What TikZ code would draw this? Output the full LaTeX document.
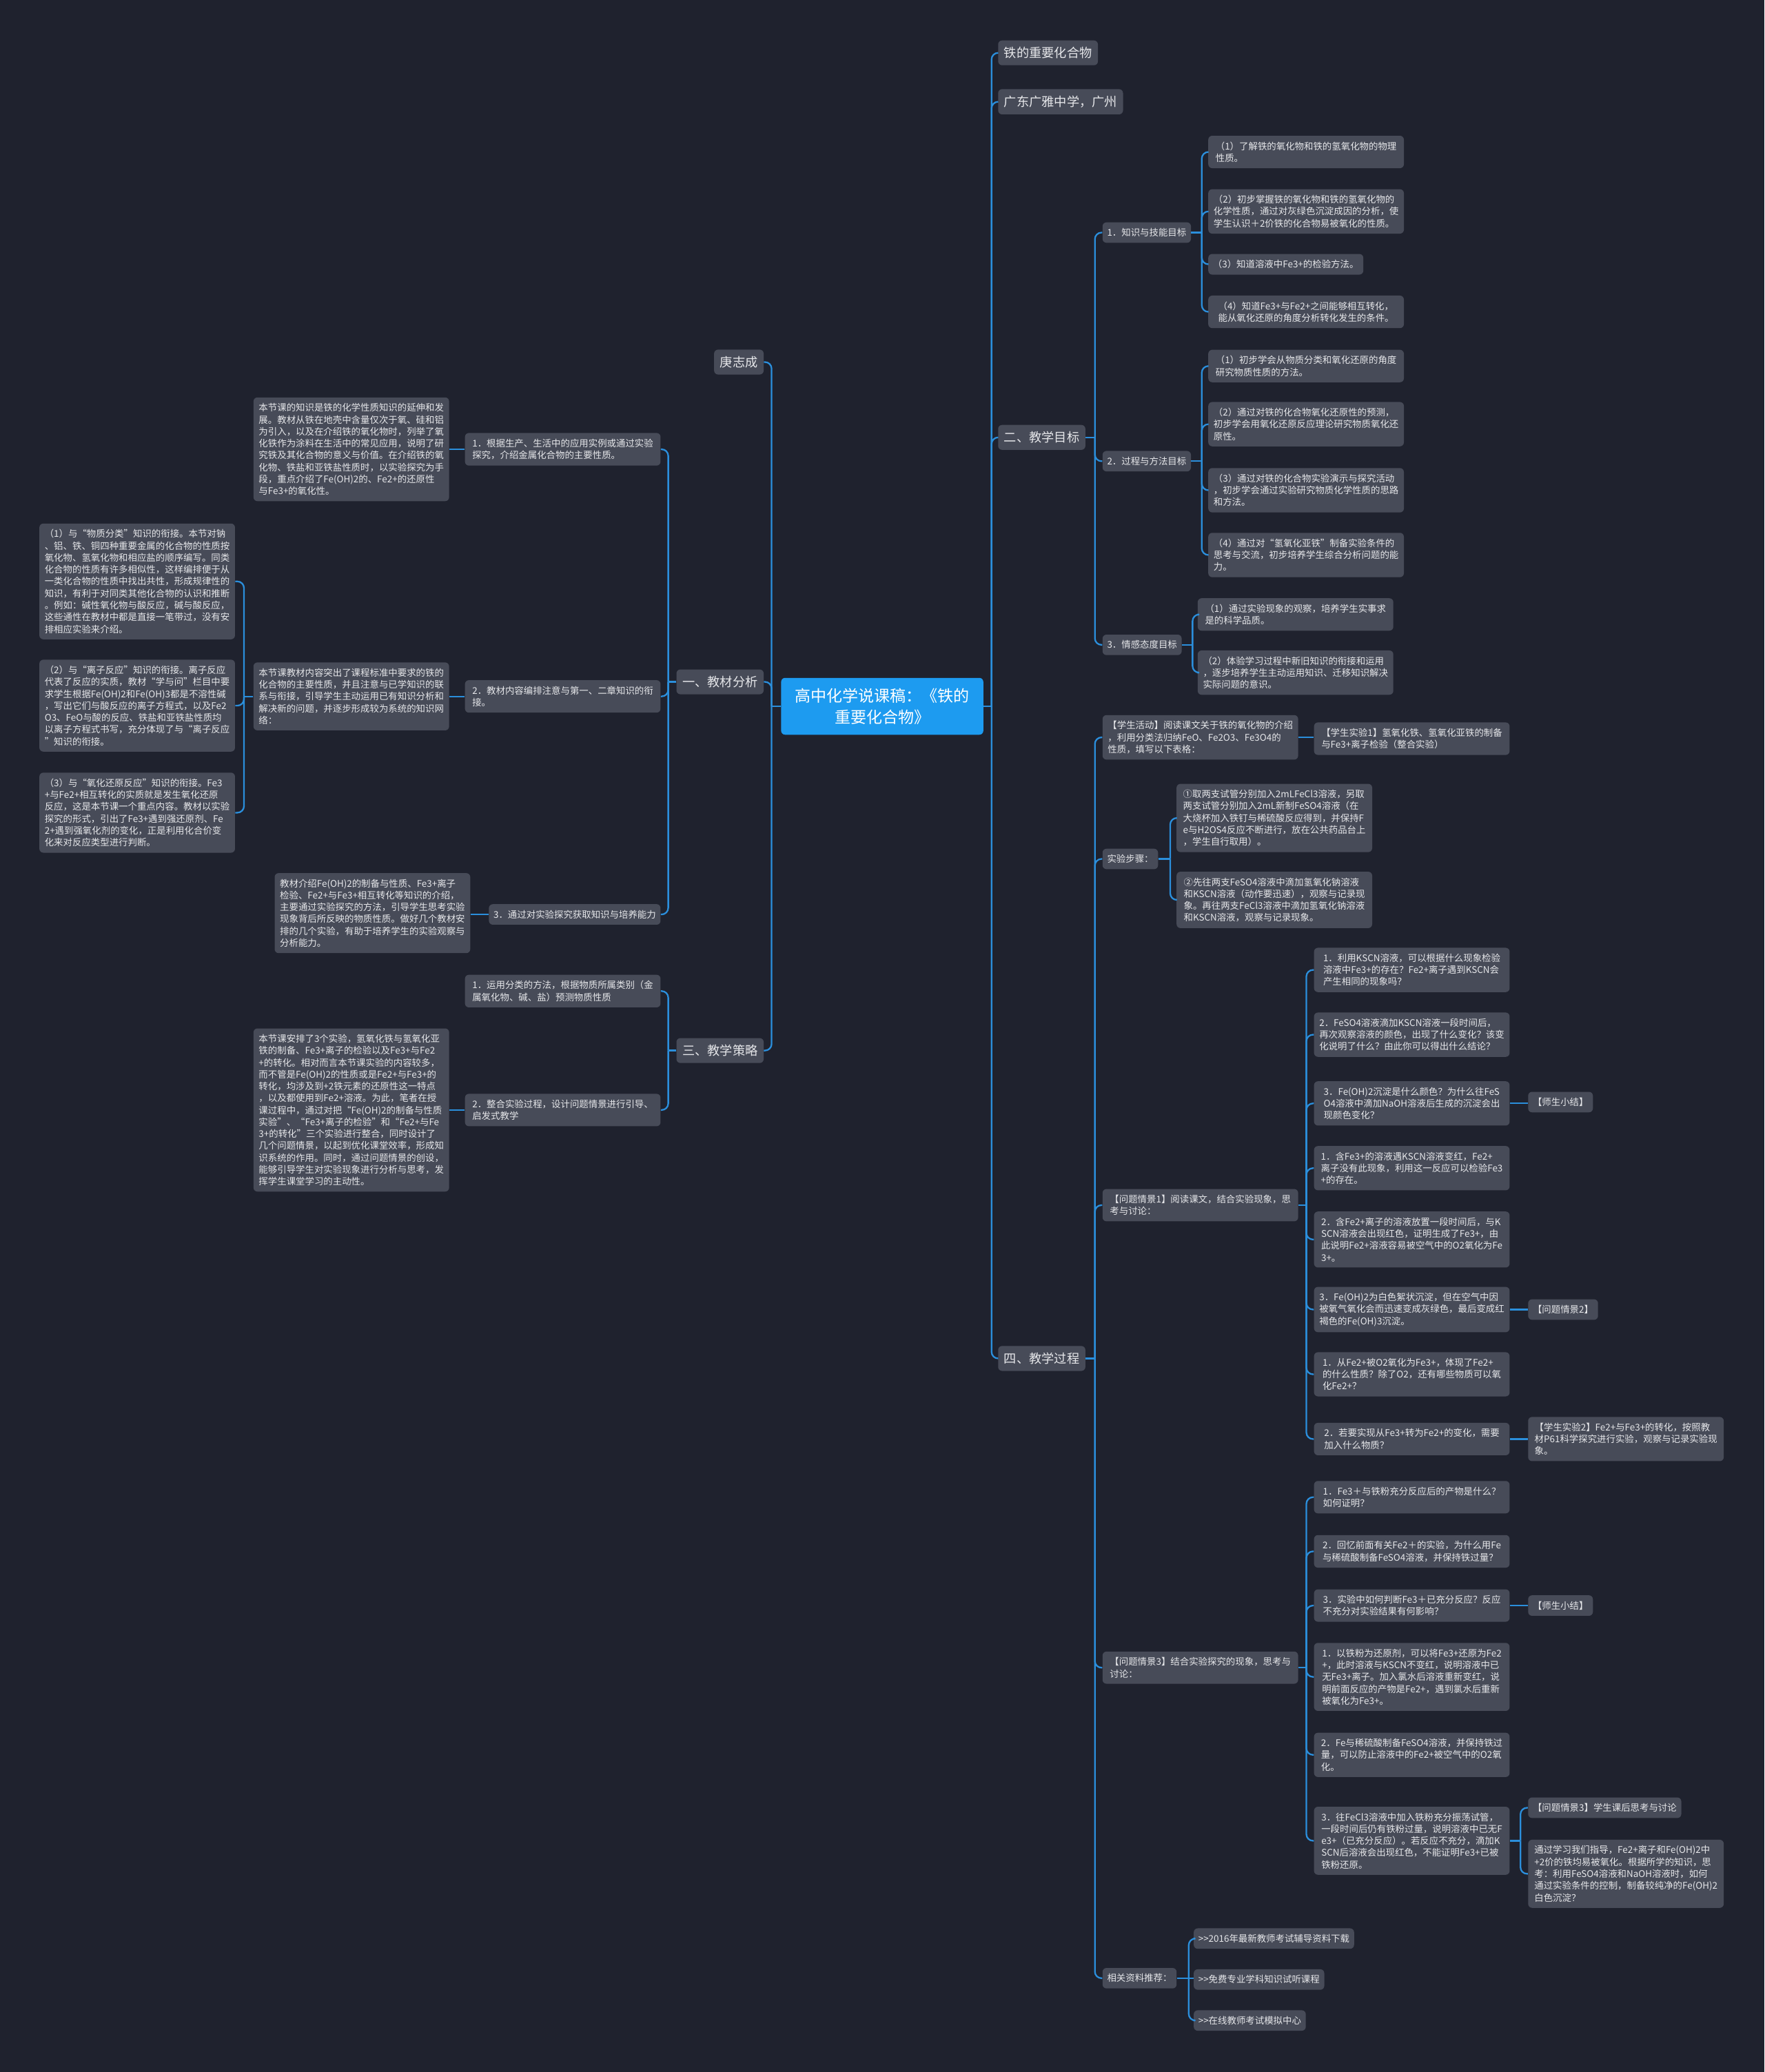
\documentclass[tikz,border=0pt]{standalone}
\usepackage{fontspec}
\setmainfont{Noto Sans CJK SC}
\usepackage{tikz}
\usetikzlibrary{positioning,calc}

\definecolor{bund}{HTML}{1F222E}
\definecolor{boks}{HTML}{474B58}
\definecolor{linje}{HTML}{2B8FDC}
\definecolor{midte}{HTML}{1D9BF0}
\definecolor{tekst}{HTML}{E6E7EA}

\tikzset{
    % Define style for boxes
    box/.style={
           rectangle,
           rounded corners=3pt,
           fill=boks,
           text=tekst,
           align=left,
           inner xsep=3.5pt,
           inner ysep=4.5pt,
           font=\fontsize{7}{9}\selectfont},
    % Wide text boxes
    para/.style={
           box,
           minimum width=148pt},
    % Main branches
    main/.style={
           box,
           inner xsep=4.5pt,
           inner ysep=5pt,
           font=\fontsize{9.5}{11}\selectfont},
    % Center topic
    topic/.style={
           box,
           fill=midte,
           text=white,
           align=center,
           minimum width=153pt,
           minimum height=43pt,
           font=\fontsize{12}{16}\selectfont},
    % Define connector style
    link/.style={
           draw=linje,
           line width=1.2pt,
           rounded corners=5pt}
}

% branch to the right / to the left
\newcommand{\hgren}[3]{%
    \draw[link] (#1.east) -- ++(#3,0) coordinate (knk);
    \draw[link] (knk) |- (#2.west);}
\newcommand{\vgren}[3]{%
    \draw[link] (#1.west) -- ++(-#3,0) coordinate (knk);
    \draw[link] (knk) |- (#2.east);}

\begin{document}
\begin{tikzpicture}[x=1pt, y=-1pt]
	% Background
	\fill[bund] (0,0) rectangle (1335,1568);
	\useasboundingbox (0,0) rectangle (1335,1568);

	% Center topic
	\node[topic] (kegao) at (667.5,534.5) {高中化学说课稿：《铁的\\重要化合物》};

	% Right main branches
	\node[main, anchor=west] (tie) at (755,40) {铁的重要化合物};
	\node[main, anchor=west] (xuexiao) at (755,77) {广东广雅中学，广州};
	\node[main, anchor=west] (mubiao) at (755,331) {二、教学目标};
	\node[main, anchor=west] (guocheng) at (755,1028) {四、教学过程};

	% Left main branches
	\node[main, anchor=east] (zuozhe) at (578,274) {庚志成};
	\node[main, anchor=east] (fenxi) at (578,516) {一、教材分析};
	\node[main, anchor=east] (celue) at (578,795) {三、教学策略};

	% Teaching goals
	\node[box, anchor=west] (zhishi) at (834,176) {1．知识与技能目标};
	\node[box, anchor=west] (fangfa) at (834,349) {2．过程与方法目标};
	\node[box, anchor=west] (qinggan) at (834,488) {3．情感态度目标};

	\node[para, anchor=west] (zs1) at (914,115) {（1）了解铁的氧化物和铁的氢氧化物的物理\\性质。};
	\node[para, anchor=west] (zs2) at (914,160) {（2）初步掌握铁的氧化物和铁的氢氧化物的\\化学性质，通过对灰绿色沉淀成因的分析，使\\学生认识＋2价铁的化合物易被氧化的性质。};
	\node[box, anchor=west] (zs3) at (914,200) {（3）知道溶液中Fe3+的检验方法。};
	\node[para, anchor=west] (zs4) at (914,236) {（4）知道Fe3+与Fe2+之间能够相互转化，\\能从氧化还原的角度分析转化发生的条件。};

	\node[para, anchor=west] (ff1) at (914,277) {（1）初步学会从物质分类和氧化还原的角度\\研究物质性质的方法。};
	\node[para, anchor=west] (ff2) at (914,321) {（2）通过对铁的化合物氧化还原性的预测，\\初步学会用氧化还原反应理论研究物质氧化还\\原性。};
	\node[para, anchor=west] (ff3) at (914,371) {（3）通过对铁的化合物实验演示与探究活动\\，初步学会通过实验研究物质化学性质的思路\\和方法。};
	\node[para, anchor=west] (ff4) at (914,420) {（4）通过对“氢氧化亚铁”制备实验条件的\\思考与交流，初步培养学生综合分析问题的能\\力。};

	\node[para, anchor=west] (qg1) at (906,465) {（1）通过实验现象的观察，培养学生实事求\\是的科学品质。};
	\node[para, anchor=west] (qg2) at (906,509) {（2）体验学习过程中新旧知识的衔接和运用\\，逐步培养学生主动运用知识、迁移知识解决\\实际问题的意识。};

	% Teaching process
	\node[para, anchor=west] (huodong) at (834,558) {【学生活动】阅读课文关于铁的氧化物的介绍\\，利用分类法归纳FeO、Fe2O3、Fe3O4的\\性质，填写以下表格：};
	\node[para, anchor=west] (shiyan1) at (994,559) {【学生实验1】氢氧化铁、氢氧化亚铁的制备\\与Fe3+离子检验（整合实验）};

	\node[box, anchor=west] (buzhou) at (834,650) {实验步骤：};
	\node[para, anchor=west] (bz1) at (890,619) {①取两支试管分别加入2mLFeCl3溶液，另取\\两支试管分别加入2mL新制FeSO4溶液（在\\大烧杯加入铁钉与稀硫酸反应得到，并保持F\\e与H2OS4反应不断进行，放在公共药品台上\\，学生自行取用）。};
	\node[para, anchor=west] (bz2) at (890,681) {②先往两支FeSO4溶液中滴加氢氧化钠溶液\\和KSCN溶液（动作要迅速），观察与记录现\\象。再往两支FeCl3溶液中滴加氢氧化钠溶液\\和KSCN溶液，观察与记录现象。};

	\node[para, anchor=west] (qingjing1) at (834,912) {【问题情景1】阅读课文，结合实验现象，思\\考与讨论：};
	\node[para, anchor=west] (wt1) at (994,734) {1．利用KSCN溶液，可以根据什么现象检验\\溶液中Fe3+的存在？Fe2+离子遇到KSCN会\\产生相同的现象吗？};
	\node[para, anchor=west] (wt2) at (994,783) {2．FeSO4溶液滴加KSCN溶液一段时间后，\\再次观察溶液的颜色，出现了什么变化？该变\\化说明了什么？由此你可以得出什么结论？};
	\node[para, anchor=west] (wt3) at (994,835) {3．Fe(OH)2沉淀是什么颜色？为什么往FeS\\O4溶液中滴加NaOH溶液后生成的沉淀会出\\现颜色变化？};
	\node[para, anchor=west] (da1) at (994,884) {1．含Fe3+的溶液遇KSCN溶液变红，Fe2+\\离子没有此现象，利用这一反应可以检验Fe3\\+的存在。};
	\node[para, anchor=west] (da2) at (994,938) {2．含Fe2+离子的溶液放置一段时间后，与K\\SCN溶液会出现红色，证明生成了Fe3+，由\\此说明Fe2+溶液容易被空气中的O2氧化为Fe\\3+。};
	\node[para, anchor=west] (da3) at (994,991) {3．Fe(OH)2为白色絮状沉淀，但在空气中因\\被氧气氧化会而迅速变成灰绿色，最后变成红\\褐色的Fe(OH)3沉淀。};
	\node[para, anchor=west] (wn1) at (994,1040) {1．从Fe2+被O2氧化为Fe3+，体现了Fe2+\\的什么性质？除了O2，还有哪些物质可以氧\\化Fe2+？};
	\node[para, anchor=west] (wn2) at (994,1089) {2．若要实现从Fe3+转为Fe2+的变化，需要\\加入什么物质？};
	\node[box, anchor=west] (xiaojie1) at (1156,834) {【师生小结】};
	\node[box, anchor=west] (qingjing2) at (1156,991) {【问题情景2】};
	\node[para, anchor=west] (shiyan2) at (1156,1089) {【学生实验2】Fe2+与Fe3+的转化，按照教\\材P61科学探究进行实验，观察与记录实验现\\象。};

	\node[para, anchor=west] (qingjing3) at (834,1262) {【问题情景3】结合实验探究的现象，思考与\\讨论：};
	\node[para, anchor=west] (wc1) at (994,1133) {1．Fe3＋与铁粉充分反应后的产物是什么？\\如何证明？};
	\node[para, anchor=west] (wc2) at (994,1174) {2．回忆前面有关Fe2＋的实验，为什么用Fe\\与稀硫酸制备FeSO4溶液，并保持铁过量？};
	\node[para, anchor=west] (wc3) at (994,1215) {3．实验中如何判断Fe3＋已充分反应？反应\\不充分对实验结果有何影响？};
	\node[para, anchor=west] (dc1) at (994,1269) {1．以铁粉为还原剂，可以将Fe3+还原为Fe2\\+，此时溶液与KSCN不变红，说明溶液中已\\无Fe3+离子。加入氯水后溶液重新变红，说\\明前面反应的产物是Fe2+，遇到氯水后重新\\被氧化为Fe3+。};
	\node[para, anchor=west] (dc2) at (994,1328) {2．Fe与稀硫酸制备FeSO4溶液，并保持铁过\\量，可以防止溶液中的Fe2+被空气中的O2氧\\化。};
	\node[para, anchor=west] (dc3) at (994,1393) {3．往FeCl3溶液中加入铁粉充分振荡试管，\\一段时间后仍有铁粉过量，说明溶液中已无F\\e3+（已充分反应）。若反应不充分，滴加K\\SCN后溶液会出现红色，不能证明Fe3+已被\\铁粉还原。};
	\node[box, anchor=west] (xiaojie2) at (1156,1215) {【师生小结】};
	\node[box, anchor=west] (kehou) at (1156,1368) {【问题情景3】学生课后思考与讨论};
	\node[para, anchor=west] (sikao) at (1156,1418) {通过学习我们指导，Fe2+离子和Fe(OH)2中\\+2价的铁均易被氧化。根据所学的知识，思\\考：利用FeSO4溶液和NaOH溶液时，如何\\通过实验条件的控制，制备较纯净的Fe(OH)2\\白色沉淀？};

	\node[box, anchor=west] (ziliao) at (834,1497) {相关资料推荐：};
	\node[box, anchor=west] (zl1) at (903,1467) {>{}>2016年最新教师考试辅导资料下载};
	\node[box, anchor=west] (zl2) at (903,1498) {>{}>免费专业学科知识试听课程};
	\node[box, anchor=west] (zl3) at (903,1529) {>{}>在线教师考试模拟中心};

	% Textbook analysis
	\node[para, anchor=east] (fx1) at (500,340) {1．根据生产、生活中的应用实例或通过实验\\探究，介绍金属化合物的主要性质。};
	\node[para, anchor=east] (dfx1) at (340,340) {本节课的知识是铁的化学性质知识的延伸和发\\展。教材从铁在地壳中含量仅次于氧、硅和铝\\为引入，以及在介绍铁的氧化物时，列举了氧\\化铁作为涂料在生活中的常见应用，说明了研\\究铁及其化合物的意义与价值。在介绍铁的氧\\化物、铁盐和亚铁盐性质时，以实验探究为手\\段，重点介绍了Fe(OH)2的、Fe2+的还原性\\与Fe3+的氧化性。};

	\node[para, anchor=east] (fx2) at (500,527) {2．教材内容编排注意与第一、二章知识的衔\\接。};
	\node[para, anchor=east] (dfx2) at (340,527) {本节课教材内容突出了课程标准中要求的铁的\\化合物的主要性质，并且注意与已学知识的联\\系与衔接，引导学生主动运用已有知识分析和\\解决新的问题，并逐步形成较为系统的知识网\\络：};
	\node[para, anchor=east] (xj1) at (178,440) {（1）与“物质分类”知识的衔接。本节对钠\\、铝、铁、铜四种重要金属的化合物的性质按\\氧化物、氢氧化物和相应盐的顺序编写。同类\\化合物的性质有许多相似性，这样编排便于从\\一类化合物的性质中找出共性，形成规律性的\\知识，有利于对同类其他化合物的认识和推断\\。例如：碱性氧化物与酸反应，碱与酸反应，\\这些通性在教材中都是直接一笔带过，没有安\\排相应实验来介绍。};
	\node[para, anchor=east] (xj2) at (178,534) {（2）与“离子反应”知识的衔接。离子反应\\代表了反应的实质，教材“学与问”栏目中要\\求学生根据Fe(OH)2和Fe(OH)3都是不溶性碱\\，写出它们与酸反应的离子方程式，以及Fe2\\O3、FeO与酸的反应、铁盐和亚铁盐性质均\\以离子方程式书写，充分体现了与“离子反应\\”知识的衔接。};
	\node[para, anchor=east] (xj3) at (178,615) {（3）与“氧化还原反应”知识的衔接。Fe3\\+与Fe2+相互转化的实质就是发生氧化还原\\反应，这是本节课一个重点内容。教材以实验\\探究的形式，引出了Fe3+遇到强还原剂、Fe\\2+遇到强氧化剂的变化，正是利用化合价变\\化来对反应类型进行判断。};

	\node[box, anchor=east] (fx3) at (500,692) {3．通过对实验探究获取知识与培养能力};
	\node[para, anchor=east] (dfx3) at (356,691) {教材介绍Fe(OH)2的制备与性质、Fe3+离子\\检验、Fe2+与Fe3+相互转化等知识的介绍，\\主要通过实验探究的方法，引导学生思考实验\\现象背后所反映的物质性质。做好几个教材安\\排的几个实验，有助于培养学生的实验观察与\\分析能力。};

	% Teaching strategy
	\node[para, anchor=east] (cl1) at (500,750) {1．运用分类的方法，根据物质所属类别（金\\属氧化物、碱、盐）预测物质性质};
	\node[para, anchor=east] (cl2) at (500,840) {2．整合实验过程，设计问题情景进行引导、\\启发式教学};
	\node[para, anchor=east] (dcl2) at (340,840) {本节课安排了3个实验，氢氧化铁与氢氧化亚\\铁的制备、Fe3+离子的检验以及Fe3+与Fe2\\+的转化。相对而言本节课实验的内容较多，\\而不管是Fe(OH)2的性质或是Fe2+与Fe3+的\\转化，均涉及到+2铁元素的还原性这一特点\\，以及都使用到Fe2+溶液。为此，笔者在授\\课过程中，通过对把“Fe(OH)2的制备与性质\\实验”、“Fe3+离子的检验”和“Fe2+与Fe\\3+的转化”三个实验进行整合，同时设计了\\几个问题情景，以起到优化课堂效率，形成知\\识系统的作用。同时，通过问题情景的创设，\\能够引导学生对实验现象进行分析与思考，发\\挥学生课堂学习的主动性。};

	% Connectors, right
	\hgren{kegao}{tie}{6}
	\hgren{kegao}{xuexiao}{6}
	\hgren{kegao}{mubiao}{6}
	\hgren{kegao}{guocheng}{6}
	\hgren{mubiao}{zhishi}{7}
	\hgren{mubiao}{fangfa}{7}
	\hgren{mubiao}{qinggan}{7}
	\foreach \k in {zs1,zs2,zs3,zs4} {\hgren{zhishi}{\k}{8}}
	\foreach \k in {ff1,ff2,ff3,ff4} {\hgren{fangfa}{\k}{8}}
	\foreach \k in {qg1,qg2} {\hgren{qinggan}{\k}{8}}
	\foreach \k in {huodong,buzhou,qingjing1,qingjing3,ziliao} {\hgren{guocheng}{\k}{7}}
	\draw[link] (huodong.east) -- (huodong.east -| shiyan1.west);
	\foreach \k in {bz1,bz2} {\hgren{buzhou}{\k}{9}}
	\foreach \k in {wt1,wt2,wt3,da1,da2,da3,wn1,wn2} {\hgren{qingjing1}{\k}{6}}
	\draw[link] (wt3.east) -- (wt3.east -| xiaojie1.west);
	\draw[link] (da3.east) -- (da3.east -| qingjing2.west);
	\draw[link] (wn2.east) -- (wn2.east -| shiyan2.west);
	\foreach \k in {wc1,wc2,wc3,dc1,dc2,dc3} {\hgren{qingjing3}{\k}{6}}
	\draw[link] (wc3.east) -- (wc3.east -| xiaojie2.west);
	\foreach \k in {kehou,sikao} {\hgren{dc3}{\k}{8}}
	\hgren{ziliao}{zl1}{9}
	\draw[link] (ziliao.east) -- (ziliao.east -| zl2.west);
	\hgren{ziliao}{zl3}{9}

	% Connectors, left
	\foreach \k in {zuozhe,fenxi,celue} {\vgren{kegao}{\k}{7}}
	\foreach \k in {fx1,fx2,fx3} {\vgren{fenxi}{\k}{6}}
	\foreach \k in {cl1,cl2} {\vgren{celue}{\k}{6}}
	\draw[link] (fx1.west) -- (fx1.west -| dfx1.east);
	\draw[link] (fx2.west) -- (fx2.west -| dfx2.east);
	\draw[link] (fx3.west) -- (fx3.west -| dfx3.east);
	\draw[link] (cl2.west) -- (cl2.west -| dcl2.east);
	\foreach \k in {xj1,xj2,xj3} {\vgren{dfx2}{\k}{7}}
\end{tikzpicture}
\end{document}
